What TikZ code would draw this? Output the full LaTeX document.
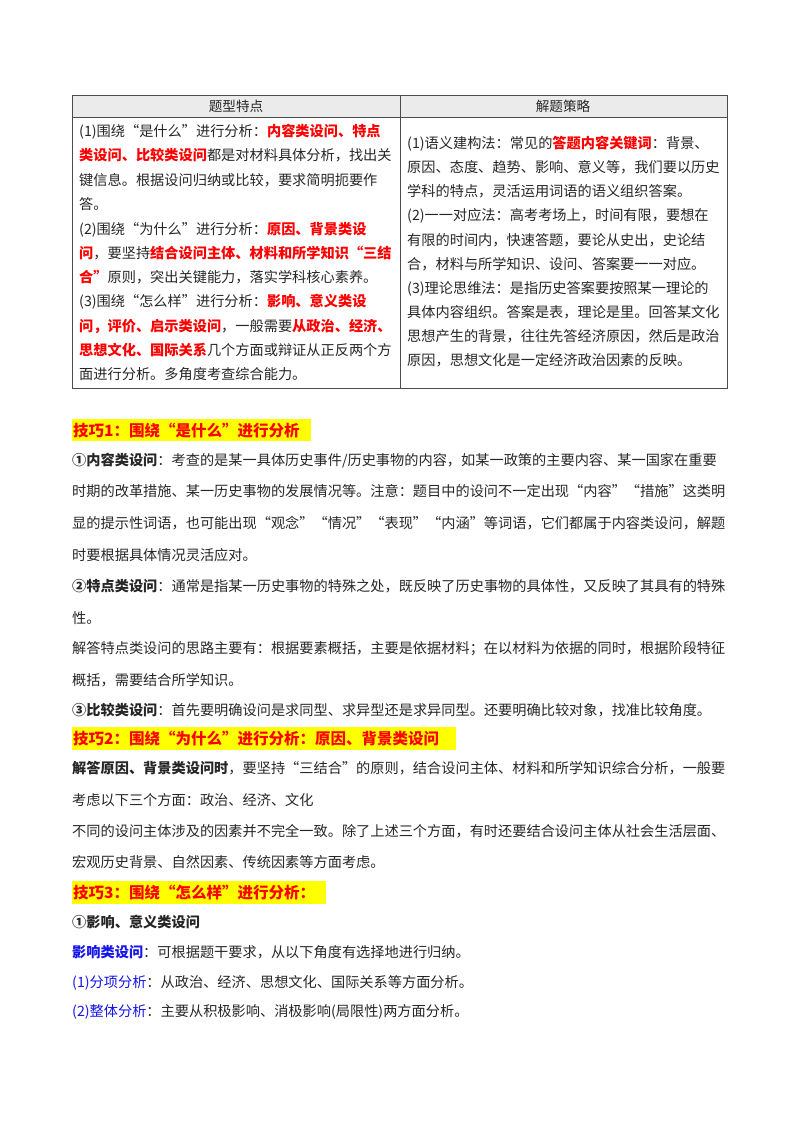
\documentclass[tikz,border=0pt]{standalone}
\usepackage{fontspec}
\setmainfont{Noto Sans CJK SC}
\definecolor{hred}{RGB}{255,0,0}
\definecolor{hblue}{RGB}{20,20,235}
\definecolor{hyel}{RGB}{255,255,0}
\definecolor{hgray}{RGB}{235,235,235}
\newcommand{\R}[1]{{\bfseries\color{hred}#1}}
\newcommand{\B}[1]{{\bfseries #1}}
\newcommand{\U}[1]{{\color{hblue}#1}}
\begin{document}
\begin{tikzpicture}[x=1pt,y=-1pt,
  txt/.style={anchor=base west,inner sep=0pt,font=\fontsize{14.2}{15}\selectfont,text=black!85},
  ttx/.style={anchor=base west,inner sep=0pt,font=\fontsize{14.2}{15}\selectfont,text=black!85},
  head/.style={anchor=base west,inner sep=0pt,font=\fontsize{15.5}{16}\selectfont\bfseries,text=hred},
  rule/.style={draw=black!70,line width=0.8pt}]
\useasboundingbox (0,0) rectangle (800,1132);
% table
\fill[hgray] (72,95) rectangle (727,117);
\draw[rule] (72,95) rectangle (727,388);
\draw[rule] (72,117) -- (727,117);
\draw[rule] (400,95) -- (400,388);
\node[anchor=center,inner sep=0pt,font=\fontsize{13.6}{14}\selectfont,text=black!85] (h1) at (236,106) {题型特点};
\node[anchor=center,inner sep=0pt,font=\fontsize{13.6}{14}\selectfont,text=black!85] (h2) at (563,106) {解题策略};
\node[ttx] (l1) at (79,136) {(1)围绕“是什么”进行分析：\R{内容类设问、特点}};
\node[ttx] (l2) at (79,160) {\R{类设问、比较类设问}都是对材料具体分析，找出关};
\node[ttx] (l3) at (79,185) {键信息。根据设问归纳或比较，要求简明扼要作};
\node[ttx] (l4) at (79,209) {答。};
\node[ttx] (l5) at (79,234) {(2)围绕“为什么”进行分析：\R{原因、背景类设}};
\node[ttx] (l6) at (79,258) {\R{问}，要坚持\R{结合设问主体、材料和所学知识“三结}};
\node[ttx] (l7) at (79,282) {\R{合”}原则，突出关键能力，落实学科核心素养。};
\node[ttx] (l8) at (79,306) {(3)围绕“怎么样”进行分析：\R{影响、意义类设}};
\node[ttx] (l9) at (79,331) {\R{问，评价、启示类设问}，一般需要\R{从政治、经济、}};
\node[ttx] (l10) at (79,355) {\R{思想文化、国际关系}几个方面或辩证从正反两个方};
\node[ttx] (l11) at (79,379) {面进行分析。多角度考查综合能力。};
\node[ttx] (r1) at (407,148) {(1)语义建构法：常见的\R{答题内容关键词}：背景、};
\node[ttx] (r2) at (407,172) {原因、态度、趋势、影响、意义等，我们要以历史};
\node[ttx] (r3) at (407,196) {学科的特点，灵活运用词语的语义组织答案。};
\node[ttx] (r4) at (407,220) {(2)一一对应法：高考考场上，时间有限，要想在};
\node[ttx] (r5) at (407,245) {有限的时间内，快速答题，要论从史出，史论结};
\node[ttx] (r6) at (407,269) {合，材料与所学知识、设问、答案要一一对应。};
\node[ttx] (r7) at (407,293) {(3)理论思维法：是指历史答案要按照某一理论的};
\node[ttx] (r8) at (407,317) {具体内容组织。答案是表，理论是里。回答某文化};
\node[ttx] (r9) at (407,341) {思想产生的背景，往往先答经济原因，然后是政治};
\node[ttx] (r10) at (407,365) {原因，思想文化是一定经济政治因素的反映。};
% body
\fill[hyel] (72,419) rectangle (311,441);
\node[head] (k1) at (73,436) {技巧1：围绕“是什么”进行分析};
\node[txt] (b1) at (72,465) {\B{①内容类设问}：考查的是某一具体历史事件/历史事物的内容，如某一政策的主要内容、某一国家在重要};
\node[txt] (b2) at (72,496) {时期的改革措施、某一历史事物的发展情况等。注意：题目中的设问不一定出现“内容”“措施”这类明};
\node[txt] (b3) at (72,528) {显的提示性词语，也可能出现“观念”“情况”“表现”“内涵”等词语，它们都属于内容类设问，解题};
\node[txt] (b4) at (72,560) {时要根据具体情况灵活应对。};
\node[txt] (b5) at (72,591) {\B{②特点类设问}：通常是指某一历史事物的特殊之处，既反映了历史事物的具体性，又反映了其具有的特殊};
\node[txt] (b6) at (72,623) {性。};
\node[txt] (b7) at (72,653) {解答特点类设问的思路主要有：根据要素概括，主要是依据材料；在以材料为依据的同时，根据阶段特征};
\node[txt] (b8) at (72,685) {概括，需要结合所学知识。};
\node[txt] (b9) at (72,715) {\B{③比较类设问}：首先要明确设问是求同型、求异型还是求异同型。还要明确比较对象，找准比较角度。};
\fill[hyel] (72,727) rectangle (456,750);
\node[head] (k2) at (73,744) {技巧2：围绕“为什么”进行分析：原因、背景类设问};
\node[txt] (c1) at (72,773) {\B{解答原因、背景类设问时}，要坚持“三结合”的原则，结合设问主体、材料和所学知识综合分析，一般要};
\node[txt] (c2) at (72,805) {考虑以下三个方面：政治、经济、文化};
\node[txt] (c3) at (72,836) {不同的设问主体涉及的因素并不完全一致。除了上述三个方面，有时还要结合设问主体从社会生活层面、};
\node[txt] (c4) at (72,867) {宏观历史背景、自然因素、传统因素等方面考虑。};
\fill[hyel] (72,881) rectangle (326,904);
\node[head] (k3) at (73,898) {技巧3：围绕“怎么样”进行分析：};
\node[txt] (d1) at (72,927) {\B{①影响、意义类设问}};
\node[txt] (d2) at (72,957) {{\bfseries\color{hblue}影响类设问}：可根据题干要求，从以下角度有选择地进行归纳。};
\node[txt] (d3) at (72,987) {\U{(1)分项分析}：从政治、经济、思想文化、国际关系等方面分析。};
\node[txt] (d4) at (72,1016) {\U{(2)整体分析}：主要从积极影响、消极影响(局限性)两方面分析。};
\end{tikzpicture}
\end{document}
